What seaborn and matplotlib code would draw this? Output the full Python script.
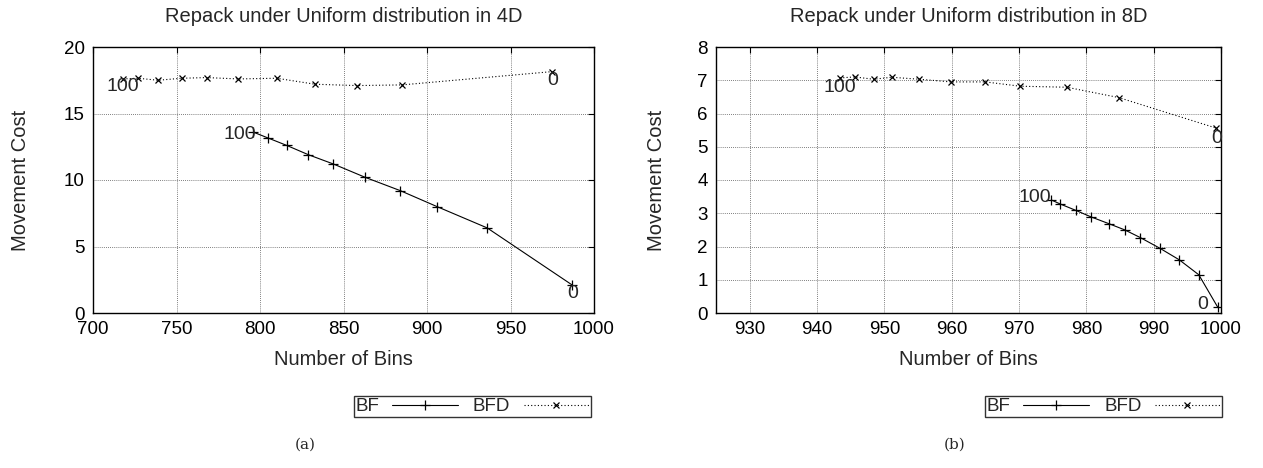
import matplotlib
matplotlib.use("Agg")
import matplotlib.pyplot as plt
from matplotlib.lines import Line2D
import pandas as pd
import seaborn as sns

# (a) 4D: Best Fit (BF) and Best Fit Decreasing (BFD), 100% -> 0% repack
bins_4d_bf = [796, 805, 816, 829, 844, 863, 884, 906, 936, 987]
cost_4d_bf = [13.6, 13.15, 12.6, 11.9, 11.2, 10.2, 9.2, 8.0, 6.4, 2.1]
bins_4d_bfd = [718, 727, 739, 753, 768, 787, 810, 833, 858, 885, 975]
cost_4d_bfd = [17.6, 17.65, 17.5, 17.65, 17.7, 17.6, 17.65, 17.2, 17.1, 17.15, 18.15]

# (b) 8D
bins_8d_bf = [974.8, 976.1, 978.4, 980.7, 983.3, 985.7, 988.0, 990.9, 993.8, 996.7, 999.5]
cost_8d_bf = [3.4, 3.28, 3.09, 2.89, 2.69, 2.5, 2.27, 1.95, 1.6, 1.15, 0.18]
bins_8d_bfd = [943.4, 945.6, 948.4, 951.1, 955.2, 959.9, 965.0, 970.2, 977.1, 984.8, 999.3]
cost_8d_bfd = [7.07, 7.1, 7.03, 7.09, 7.03, 6.95, 6.95, 6.82, 6.79, 6.48, 5.56]

titles = ["Repack under Uniform distribution in 4D", "Repack under Uniform distribution in 8D"]
xlims = [(700, 1000), (925, 1000)]
xticks = [list(range(700, 1001, 50)), list(range(930, 1001, 10))]
ylims = [(0, 20), (0, 8)]
yticks = [list(range(0, 21, 5)), list(range(0, 9))]
captions = ["(a)", "(b)"]

sns.set_style("white")
plt.rcParams["font.family"] = ["Liberation Sans", "DejaVu Sans"]

fig = plt.figure(figsize=(12.63, 4.68), dpi=100)
W, H = 1263, 468


def px_axes(x0, y0, x1, y1):
    return fig.add_axes([x0 / W, 1 - y1 / H, (x1 - x0) / W, (y1 - y0) / H])


ax_px = [(93, 47, 594, 313), (716, 47, 1221, 313)]
axes = [px_axes(*b) for b in ax_px]
panels = [
    (bins_4d_bf, cost_4d_bf, bins_4d_bfd, cost_4d_bfd),
    (bins_8d_bf, cost_8d_bf, bins_8d_bfd, cost_8d_bfd),
]
# label offsets in pixels (dx, dy down) for: BF 100, BF 0, BFD 100, BFD 0
offsets = [
    [(-14, 2), (0, 8), (0, 8), (0, 9)],
    [(-17, -2), (-15, -3), (0, 10), (0, 10)],
]
# right edge of the rotated y label, in pixels
ylab_px = [30, 666]

for i, ax in enumerate(axes):
    xb, yb, xd, yd = panels[i]
    bf = pd.DataFrame({"bins": xb, "cost": yb})
    bfd = pd.DataFrame({"bins": xd, "cost": yd})
    sns.lineplot(data=bf, x="bins", y="cost", ax=ax, color="black", lw=0.8,
                 marker="+", markersize=6.5, markeredgewidth=0.9,
                 markeredgecolor="black", sort=False)
    sns.lineplot(data=bfd, x="bins", y="cost", ax=ax, color="black", lw=0.8,
                 linestyle=(0, (1, 2)), marker="x", markersize=4,
                 markeredgewidth=0.9, markeredgecolor="black", sort=False)
    pts = [(xb[0], yb[0], "100"), (xb[-1], yb[-1], "0"),
           (xd[0], yd[0], "100"), (xd[-1], yd[-1], "0")]
    for (px, py, txt), (dx, dy) in zip(pts, offsets[i]):
        ax.annotate(txt, (px, py), xytext=(dx * 0.72, -dy * 0.72),
                    textcoords="offset points", ha="center", va="center",
                    fontsize=14, annotation_clip=False)
    ax.set_xlim(*xlims[i])
    ax.set_ylim(*ylims[i])
    ax.set_xticks(xticks[i])
    ax.set_yticks(yticks[i])
    ax.tick_params(direction="in", length=4, width=0.8, top=True, right=True,
                   labelsize=13.5, pad=6, colors="black")
    ax.grid(True, linestyle=(0, (1, 1.5)), color="#555555", lw=0.6)
    for s in ax.spines.values():
        s.set_color("black")
        s.set_linewidth(1.0)
    x0, y0, x1, y1 = ax_px[i]
    fig.text((x0 + x1) / 2 / W, 1 - 16 / H, titles[i], ha="center", va="center",
             fontsize=14.5)
    ax.set_xlabel("Number of Bins", fontsize=14.5)
    ax.xaxis.set_label_coords(0.5, (313 - 350) / (y1 - y0))
    ax.set_ylabel("Movement Cost", fontsize=14.5)
    ax.yaxis.set_label_coords((ylab_px[i] - x0) / (x1 - x0), 0.5)

handles = [
    Line2D([], [], color="black", lw=0.8, marker="+", markersize=6.5, mew=0.9),
    Line2D([], [], color="black", lw=0.8, linestyle=(0, (1, 2)), marker="x",
           markersize=4, mew=0.9),
]
leg_right = [591, 1222]
for i in range(2):
    leg = fig.legend(handles, ["BF", "BFD"], ncol=2, markerfirst=False,
                     loc="center right", bbox_to_anchor=(leg_right[i] / W, 1 - 406.5 / H),
                     frameon=True, fancybox=False, fontsize=13.5, handlelength=3.5,
                     handletextpad=0.7, columnspacing=0.8, borderpad=0.1,
                     borderaxespad=0)
    leg.get_frame().set_edgecolor("black")
    leg.get_frame().set_linewidth(1.0)

for cx, cap in zip([305, 955], captions):
    fig.text(cx / W, 1 - 445 / H, cap, ha="center", va="center",
             fontsize=11, family=["DejaVu Serif"])

fig.savefig("out.png", dpi=100)
